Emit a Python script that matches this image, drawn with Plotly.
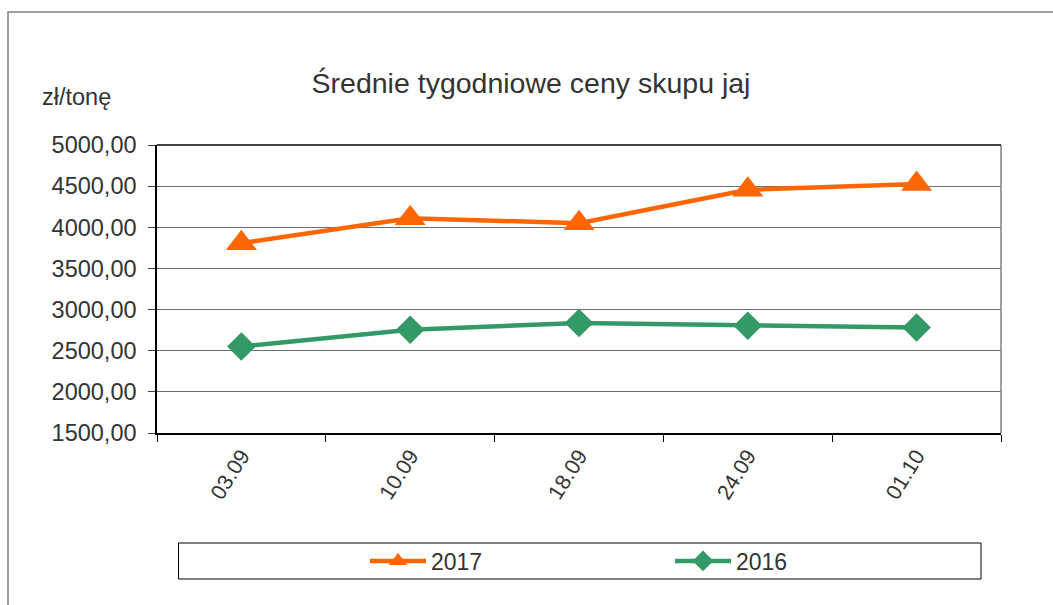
import plotly.graph_objects as go

categories = ["03.09", "10.09", "18.09", "24.09", "01.10"]
values_2017 = [3807, 4110, 4050, 4455, 4527]
values_2016 = [2552, 2755, 2836, 2803, 2783]
y_ticks = [1500, 2000, 2500, 3000, 3500, 4000, 4500, 5000]

W, H = 1053, 605
L, R, T, B = 157, 52, 145, 172
pw, ph = W - L - R, H - T - B

def px_x(x):
    return (x - L) / pw

def px_y(y):
    return (H - B - y) / ph

FONT = "Liberation Sans, Arial, sans-serif"
TXT = "#333333"

fig = go.Figure()
fig.add_trace(go.Scatter(
    x=categories, y=values_2017, name="2017", mode="lines+markers",
    line=dict(color="#FF6600", width=4.5),
    marker=dict(symbol="triangle-up", size=27, color="#FF6600"),
))
fig.add_trace(go.Scatter(
    x=categories, y=values_2016, name="2016", mode="lines+markers",
    line=dict(color="#339966", width=4.5),
    marker=dict(symbol="diamond", size=22, color="#339966"),
))

shapes = [
    # outer chart border
    dict(type="rect", xref="paper", yref="paper",
         x0=px_x(8), x1=px_x(1070), y0=px_y(620), y1=px_y(12),
         line=dict(color="#808080", width=1.5), layer="below"),
    # legend box
    dict(type="rect", xref="paper", yref="paper",
         x0=px_x(178.5), x1=px_x(981), y0=px_y(579), y1=px_y(543),
         line=dict(color="#000000", width=1), layer="below"),
    # right border of plot area
    dict(type="line", xref="paper", yref="paper",
         x0=1, x1=1, y0=0, y1=1, line=dict(color="#808080", width=1.5)),
    # top border
    dict(type="line", xref="paper", yref="paper",
         x0=0, x1=1, y0=1, y1=1, line=dict(color="#000000", width=1.5)),
]

fig.update_layout(
    width=W, height=H,
    margin=dict(l=L, r=R, t=T, b=B, autoexpand=False),
    paper_bgcolor="white", plot_bgcolor="white",
    separators=", ",
    font=dict(family=FONT, size=23, color=TXT),
    title=dict(text="Średnie tygodniowe ceny skupu jaj",
               font=dict(family=FONT, size=28.5, color=TXT),
               xref="paper", x=px_x(531), xanchor="center",
               yref="container", y=1 - 83 / H, yanchor="middle"),
    xaxis=dict(type="category", range=[-0.5, 4.5], tickson="boundaries",
               ticks="outside", ticklen=7, tickcolor="#000000",
               showline=True, linecolor="#000000", linewidth=1.5,
               showgrid=False, tickangle=-58,
               tickfont=dict(family=FONT, size=21.5, color=TXT)),
    yaxis=dict(range=[1500, 5000], tickvals=y_ticks, tickformat=".2f",
               ticks="outside", ticklen=7, tickcolor="#404040",
               showline=True, linecolor="#000000", linewidth=1.5,
               showgrid=True, gridcolor="#6e6e6e", gridwidth=1,
               zeroline=False, ticklabelstandoff=7,
               tickfont=dict(family=FONT, size=23.5, color=TXT)),
    showlegend=True,
    legend=dict(orientation="h", x=px_x(365), xanchor="left",
                y=px_y(561), yanchor="middle",
                bgcolor="rgba(0,0,0,0)", borderwidth=0,
                itemwidth=56, entrywidth=234, entrywidthmode="pixels",
                font=dict(family=FONT, size=23, color=TXT),
                traceorder="normal"),
    shapes=shapes,
    annotations=[dict(text="zł/tonę", xref="paper", yref="paper",
                      x=px_x(40), y=px_y(97), xanchor="left", yanchor="middle",
                      showarrow=False, font=dict(family=FONT, size=23.5, color=TXT))],
)

fig.write_html("out.html", config={"displayModeBar": False},
               post_script="document.body.style.margin='0';")
